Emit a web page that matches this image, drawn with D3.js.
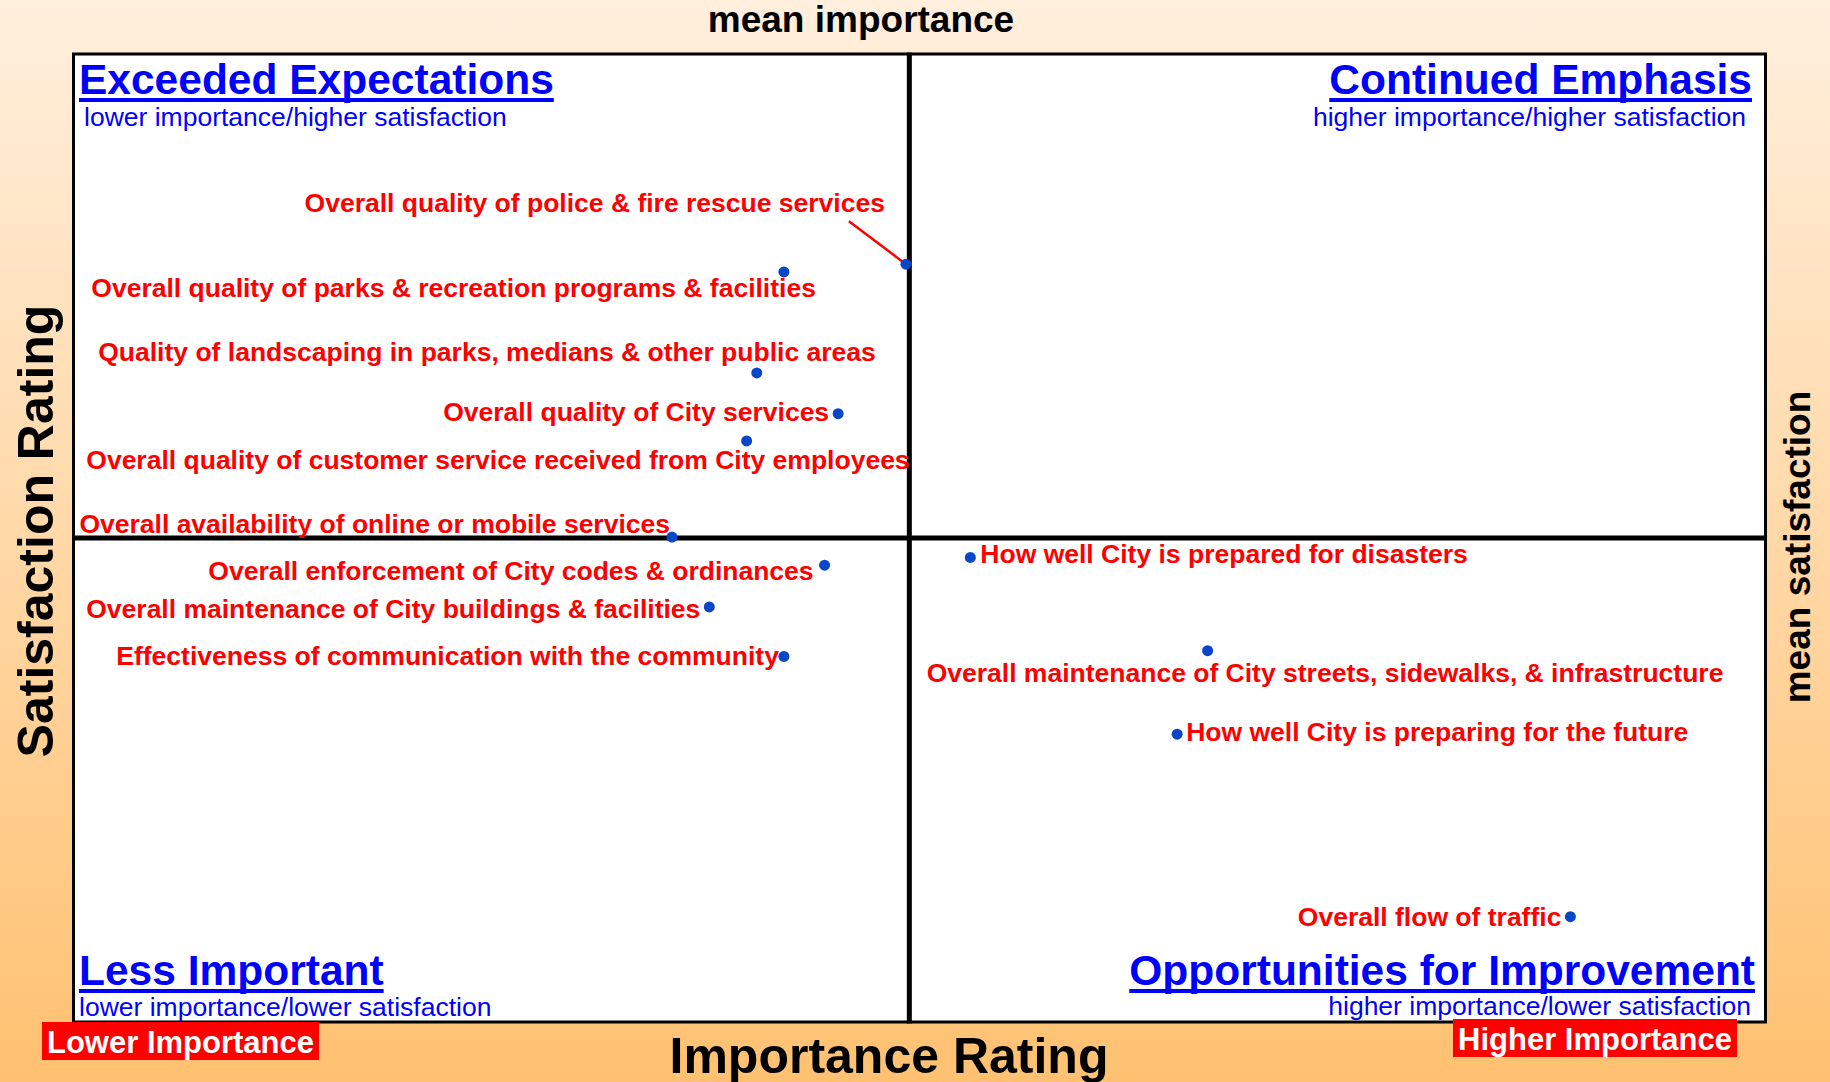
<!DOCTYPE html>
<html>
<head>
<meta charset="utf-8">
<script src="https://cdn.jsdelivr.net/npm/d3@7"></script>
<style>
  html, body { margin: 0; padding: 0; }
  body { width: 1830px; height: 1082px; overflow: hidden; }
  text { font-family: "Liberation Sans", Arial, Helvetica, sans-serif; }
</style>
</head>
<body>
<div id="chart"></div>
<script>
// survey items, importance (% rating as most important) and satisfaction (% satisfied)
var items = [
  "Overall quality of police & fire rescue services",
  "Overall quality of parks & recreation programs & facilities",
  "Quality of landscaping in parks, medians & other public areas",
  "Overall quality of City services",
  "Overall quality of customer service received from City employees",
  "Overall availability of online or mobile services",
  "Overall enforcement of City codes & ordinances",
  "Overall maintenance of City buildings & facilities",
  "Effectiveness of communication with the community",
  "How well City is prepared for disasters",
  "Overall maintenance of City streets, sidewalks, & infrastructure",
  "How well City is preparing for the future",
  "Overall flow of traffic"
];
var importance   = [24.6, 21.0, 20.2, 22.6, 19.9, 17.7, 22.2, 18.8, 21.0, 26.5, 33.5, 32.6, 44.2];
var satisfaction = [79.1, 78.7, 73.5, 71.4, 70.0, 65.05, 63.6, 61.45, 58.9, 64.0, 59.2, 54.9, 45.5];
var meanImportance = 24.7;
var meanSatisfaction = 65.0;

var quadrantTitles = ["Exceeded Expectations", "Continued Emphasis", "Less Important", "Opportunities for Improvement"];
var quadrantNotes = ["lower importance/higher satisfaction", "higher importance/higher satisfaction",
                     "lower importance/lower satisfaction", "higher importance/lower satisfaction"];

// label placement next to each dot (anchor, offset in px)
var labelPos = [
  { anchor: "end",   dx: -21, dy: -61, leader: [-57, -43] },
  { anchor: "end",   dx: 32,  dy: 16 },
  { anchor: "end",   dx: 119, dy: -21 },
  { anchor: "end",   dx: -9,  dy: -2 },
  { anchor: "end",   dx: 163, dy: 19 },
  { anchor: "end",   dx: -2,  dy: -13 },
  { anchor: "end",   dx: -11, dy: 6 },
  { anchor: "end",   dx: -9,  dy: 2 },
  { anchor: "end",   dx: -5,  dy: 0 },
  { anchor: "start", dx: 10,  dy: -3 },
  { anchor: "start", dx: -281, dy: 22 },
  { anchor: "start", dx: 9,   dy: -2 },
  { anchor: "end",   dx: -9,  dy: 0 }
];

var width = 1830;
var height = 1082;
var plotLeft = 72, plotRight = 1767, plotTop = 52.5, plotBottom = 1023.5;

var x = d3.scaleLinear().domain([0, 50]).range([plotLeft, plotRight]);
var y = d3.scaleLinear().domain([40, 90]).range([plotBottom, plotTop]);

var svg = d3.select("#chart").append("svg").attr("width", width).attr("height", height);

var grad = svg.append("defs").append("linearGradient").attr("id", "bg")
  .attr("x1", 0).attr("y1", 0).attr("x2", 0).attr("y2", 1);
grad.append("stop").attr("offset", "0%").attr("stop-color", "#FFEFDD");
grad.append("stop").attr("offset", "100%").attr("stop-color", "#FFC171");

svg.append("rect").attr("width", width).attr("height", height).attr("fill", "url(#bg)");

// plot area
svg.append("rect")
  .attr("x", plotLeft + 1.5).attr("y", plotTop + 1.5)
  .attr("width", plotRight - plotLeft - 3).attr("height", plotBottom - plotTop - 3)
  .attr("fill", "#fff").attr("stroke", "#000").attr("stroke-width", 3);

// mean lines
svg.append("line")
  .attr("x1", x(meanImportance)).attr("x2", x(meanImportance))
  .attr("y1", plotTop).attr("y2", plotBottom)
  .attr("stroke", "#000").attr("stroke-width", 5);
svg.append("line")
  .attr("x1", plotLeft).attr("x2", plotRight)
  .attr("y1", y(meanSatisfaction)).attr("y2", y(meanSatisfaction))
  .attr("stroke", "#000").attr("stroke-width", 5);

// quadrant headings
var headPos = [
  { x: plotLeft + 7,   y: 94,  anchor: "start", nx: plotLeft + 12,  ny: 126 },
  { x: plotRight - 15, y: 94,  anchor: "end",   nx: plotRight - 21, ny: 126 },
  { x: plotLeft + 7,   y: 985, anchor: "start", nx: plotLeft + 7,   ny: 1016 },
  { x: plotRight - 12, y: 985, anchor: "end",   nx: plotRight - 16, ny: 1015 }
];

quadrantTitles.forEach(function (t, i) {
  var p = headPos[i];
  var txt = svg.append("text")
    .attr("x", p.x).attr("y", p.y)
    .attr("text-anchor", p.anchor)
    .attr("font-size", 42.5).attr("font-weight", "bold")
    .attr("fill", "#0000FF")
    .text(t);
  var w = txt.node().getComputedTextLength();
  var x0 = p.anchor === "end" ? p.x - w : p.x;
  svg.append("rect")
    .attr("x", x0).attr("y", p.y + 4)
    .attr("width", w).attr("height", 4)
    .attr("fill", "#0000FF");
  svg.append("text")
    .attr("x", p.nx).attr("y", p.ny)
    .attr("text-anchor", p.anchor)
    .attr("font-size", 26.5)
    .attr("fill", "#0000FF")
    .text(quadrantNotes[i]);
});

// leader line
items.forEach(function (d, i) {
  var lp = labelPos[i];
  if (!lp.leader) return;
  svg.append("line")
    .attr("x1", x(importance[i]) + lp.leader[0]).attr("y1", y(satisfaction[i]) + lp.leader[1])
    .attr("x2", x(importance[i])).attr("y2", y(satisfaction[i]))
    .attr("stroke", "#FF0000").attr("stroke-width", 2.5);
});

// points
svg.selectAll("circle.pt").data(items).enter().append("circle")
  .attr("class", "pt")
  .attr("cx", function (d, i) { return x(importance[i]); })
  .attr("cy", function (d, i) { return y(satisfaction[i]); })
  .attr("r", 5.5)
  .attr("fill", "#0A46C8");

// labels
svg.selectAll("text.lbl").data(items).enter().append("text")
  .attr("class", "lbl")
  .attr("x", function (d, i) { return x(importance[i]) + labelPos[i].dx; })
  .attr("y", function (d, i) { return y(satisfaction[i]) + labelPos[i].dy + 9; })
  .attr("text-anchor", function (d, i) { return labelPos[i].anchor; })
  .attr("font-size", 26.5).attr("font-weight", "bold")
  .attr("fill", "#FF0000")
  .text(function (d) { return d; });

// axis titles
svg.append("text").attr("x", 861).attr("y", 32).attr("text-anchor", "middle")
  .attr("font-size", 37).attr("font-weight", "bold").text("mean importance");
svg.append("text").attr("x", 889).attr("y", 1073).attr("text-anchor", "middle")
  .attr("font-size", 50).attr("font-weight", "bold").text("Importance Rating");
svg.append("text").attr("transform", "translate(53,531) rotate(-90)").attr("text-anchor", "middle")
  .attr("font-size", 50).attr("font-weight", "bold").text("Satisfaction Rating");
svg.append("text").attr("transform", "translate(1810,547) rotate(-90)").attr("text-anchor", "middle")
  .attr("font-size", 37).attr("font-weight", "bold").text("mean satisfaction");

// end markers
var ends = [
  { t: "Lower Importance",  x: 42,   y: 1022, w: 277, h: 38 },
  { t: "Higher Importance", x: 1453, y: 1019, w: 284, h: 38 }
];
ends.forEach(function (e) {
  svg.append("rect").attr("x", e.x).attr("y", e.y).attr("width", e.w).attr("height", e.h).attr("fill", "#FF0000");
  svg.append("text").attr("x", e.x + e.w / 2).attr("y", e.y + 31).attr("text-anchor", "middle")
    .attr("font-size", 31).attr("font-weight", "bold").attr("fill", "#fff").text(e.t);
});
</script>
</body>
</html>
